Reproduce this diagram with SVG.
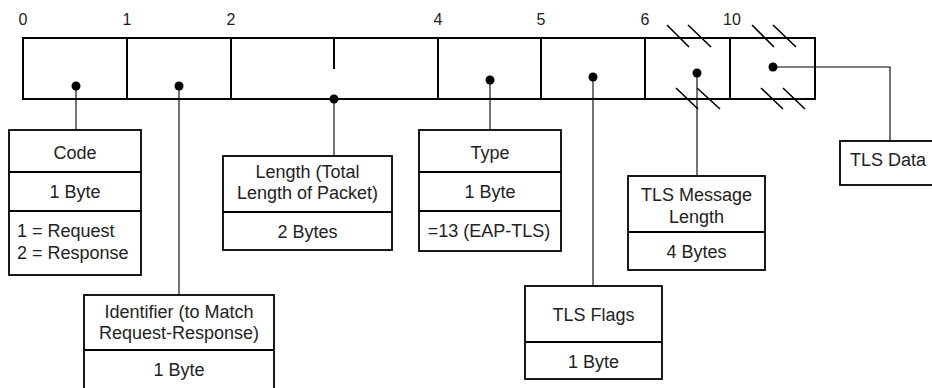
<svg xmlns="http://www.w3.org/2000/svg" width="932" height="388" viewBox="0 0 932 388">
<style>
text{font-family:"Liberation Sans",Arial,sans-serif;font-size:18px;fill:#222;}
.c{text-anchor:middle;}
.num{font-size:16px;text-anchor:middle;}
.bar{fill:#fff;stroke:#000;stroke-width:2;}
.div{stroke:#000;stroke-width:2;fill:none;}
.box{fill:#fff;stroke:#000;stroke-width:1.8;}
.conn{stroke:#000;stroke-width:1.1;fill:none;}
.sl{stroke:#000;stroke-width:1.6;fill:none;}
.dot{fill:#000;}
</style>
<rect width="932" height="388" fill="#fff"/>
<g id="packet">
<text class="num" x="23" y="25">0</text>
<text class="num" x="127" y="25">1</text>
<text class="num" x="231" y="25">2</text>
<text class="num" x="438" y="25">4</text>
<text class="num" x="541" y="25">5</text>
<text class="num" x="645" y="25">6</text>
<text class="num" x="732" y="25">10</text>
<rect class="bar" x="23" y="38" width="792" height="61"/>
<path class="div" d="M127 38V99M231 38V99M438 38V99M541 38V99M645 38V99M730 38V99M334 38V69"/>
<path class="sl" d="M667 25L689 47M688 25L711 47M752 25L774 47M773 25L796 47M676 88L698 109M697 88L720 109M761 88L783 109M783 88L805 109"/>
</g>
<g id="connectors">
<path class="conn" d="M76 86V130M179 86V295M334 99V156M490 80V130M593 77V286M697 73V176M773 67H890V141"/>
<circle class="dot" cx="76" cy="86" r="4.5"/>
<circle class="dot" cx="179" cy="86" r="4.5"/>
<circle class="dot" cx="334" cy="99" r="4.5"/>
<circle class="dot" cx="490" cy="80" r="4.5"/>
<circle class="dot" cx="593" cy="77" r="4.5"/>
<circle class="dot" cx="697" cy="73" r="4.5"/>
<circle class="dot" cx="773" cy="67" r="4.5"/>
</g>
<g id="code">
<rect class="box" x="9" y="130" width="132" height="145"/>
<path class="box" d="M9 172H141M9 211H141"/>
<text class="c" x="75" y="159">Code</text>
<text class="c" x="75" y="198">1 Byte</text>
<text x="17" y="237">1 = Request</text>
<text x="17" y="259">2 = Response</text>
</g>
<g id="identifier">
<rect class="box" x="84" y="295" width="190" height="110"/>
<path class="box" d="M84 350H274"/>
<text class="c" x="179" y="318">Identifier (to Match</text>
<text class="c" x="179" y="339">Request-Response)</text>
<text class="c" x="179" y="376">1 Byte</text>
</g>
<g id="length">
<rect class="box" x="223" y="156" width="169" height="94"/>
<path class="box" d="M223 212H392"/>
<text class="c" x="307.5" y="178">Length (Total</text>
<text class="c" x="307.5" y="199">Length of Packet)</text>
<text class="c" x="307.5" y="238">2 Bytes</text>
</g>
<g id="type">
<rect class="box" x="419" y="130" width="142" height="121"/>
<path class="box" d="M419 172H561M419 211H561"/>
<text class="c" x="490" y="159">Type</text>
<text class="c" x="490" y="198">1 Byte</text>
<text class="c" x="489" y="237">=13 (EAP-TLS)</text>
</g>
<g id="tlsflags">
<rect class="box" x="525" y="286" width="137" height="93"/>
<path class="box" d="M525 342H662"/>
<text class="c" x="593.5" y="321">TLS Flags</text>
<text class="c" x="593.5" y="368">1 Byte</text>
</g>
<g id="tlsmsglen">
<rect class="box" x="628" y="176" width="137" height="94"/>
<path class="box" d="M628 232H765"/>
<text class="c" x="696.5" y="201">TLS Message</text>
<text class="c" x="696.5" y="223">Length</text>
<text class="c" x="696.5" y="258">4 Bytes</text>
</g>
<g id="tlsdata">
<rect class="box" x="840" y="141" width="110" height="44"/>
<text x="850" y="166">TLS Data</text>
</g>
</svg>
